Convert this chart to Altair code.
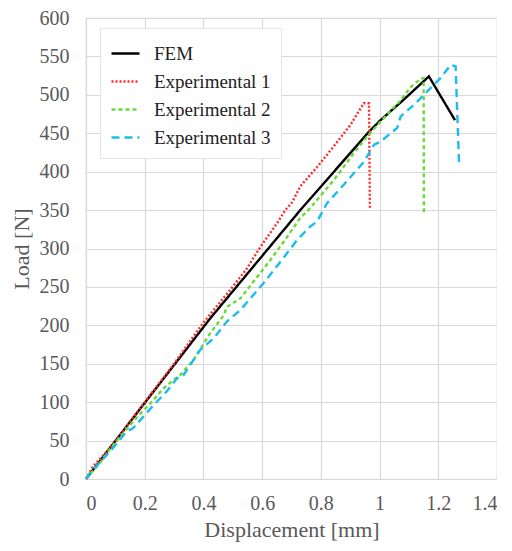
import altair as alt
import pandas as pd

series_names = ["FEM", "Experimental 1", "Experimental 2", "Experimental 3"]
series_colors = ["#000000", "#FF2A2A", "#6CD93A", "#1CBCF0"]
series_dashes = [[1, 0], [2, 2], [4, 3], [8, 5]]

fem_x = [0, 0.2, 0.423, 0.73, 0.964, 1.003, 1.083, 1.168, 1.257]
fem_y = [0, 99, 209, 350, 452, 467, 494, 524, 467]

exp1_x = [0, 0.023, 0.1, 0.15, 0.2, 0.3, 0.389, 0.435, 0.491, 0.548, 0.594, 0.651,
          0.679, 0.702, 0.73, 0.787, 0.844, 0.901, 0.946, 0.964, 0.967]
exp1_y = [0, 16, 48, 75, 100, 150, 198, 220, 246, 274, 302, 333,
          350, 360, 381, 406, 433, 461, 489, 489, 352]

exp2_x = [0, 0.05, 0.08, 0.116, 0.161, 0.218, 0.264, 0.298, 0.32, 0.366, 0.42, 0.469,
          0.48, 0.526, 0.571, 0.628, 0.685, 0.73, 0.753, 0.844, 0.912, 0.958, 1.015,
          1.072, 1.106, 1.14, 1.15, 1.151]
exp2_y = [0, 22, 38, 55, 75, 98, 118, 129, 135, 155, 188, 213,
          224, 235, 257, 285, 315, 340, 348, 389, 424, 446, 470,
          493, 510, 521, 522, 346]

exp3_x = [0, 0.014, 0.08, 0.139, 0.16, 0.23, 0.275, 0.31, 0.33, 0.389, 0.435, 0.48,
          0.526, 0.605, 0.685, 0.719, 0.765, 0.787, 0.821, 0.878, 0.947, 0.981, 1.003,
          1.06, 1.072, 1.117, 1.151, 1.208, 1.242, 1.259, 1.271]
exp3_y = [0, 8, 35, 62, 66, 96, 114, 131, 134, 168, 183, 205,
          220, 255, 294, 311, 329, 335, 359, 383, 413, 435, 439,
          457, 472, 487, 500, 522, 539, 537, 407]

x_ticks = [0, 0.2, 0.4, 0.6, 0.8, 1.0, 1.2, 1.4]
y_ticks = list(range(0, 601, 50))

rows = []
for name, xs, ys in zip(series_names,
                        [fem_x, exp1_x, exp2_x, exp3_x],
                        [fem_y, exp1_y, exp2_y, exp3_y]):
    for i, (xv, yv) in enumerate(zip(xs, ys)):
        rows.append({"series": name, "x": xv, "y": yv, "order": i})
df = pd.DataFrame(rows)

font = "Liberation Serif"

legend_kw = dict(title=None, orient="none", legendX=14, legendY=10,
                 symbolType="stroke", symbolSize=784,
                 symbolStrokeWidth=2.4, labelFontSize=19,
                 labelFont=font, labelColor="#222222",
                 labelOffset=13, rowPadding=2, padding=10,
                 fillColor="white", strokeColor="#e6e6e6")

chart = alt.Chart(df).mark_line(strokeWidth=2.4).encode(
    x=alt.X("x:Q", scale=alt.Scale(domain=[0, 1.4], nice=False),
            axis=alt.Axis(values=x_ticks, format="~g", title="Displacement [mm]",
                          grid=True, domain=False, ticks=False,
                          labelPadding=14, titlePadding=6)),
    y=alt.Y("y:Q", scale=alt.Scale(domain=[0, 600], nice=False),
            axis=alt.Axis(values=y_ticks, title="Load [N]",
                          grid=True, domain=False, ticks=False,
                          labelPadding=17, titlePadding=6)),
    color=alt.Color("series:N",
                    scale=alt.Scale(domain=series_names, range=series_colors),
                    legend=alt.Legend(**legend_kw)),
    strokeDash=alt.StrokeDash("series:N",
                              scale=alt.Scale(domain=series_names, range=series_dashes),
                              legend=alt.Legend(**legend_kw)),
    order="order:Q",
).properties(
    width=411, height=461,
    background="white",
    autosize=alt.AutoSizeParams(type="none"),
    padding={"left": 78, "top": 10, "right": 0, "bottom": 64},
).configure_view(
    stroke="#d9d9d9", strokeWidth=1.2
).configure_axis(
    gridColor="#d9d9d9", gridWidth=1.2,
    labelFont=font, labelFontSize=20, labelColor="#595959",
    titleFont=font, titleFontSize=22, titleColor="#595959", titleFontWeight="normal",
)

chart.save("out.html", embed_options={"renderer": "svg", "actions": False})
